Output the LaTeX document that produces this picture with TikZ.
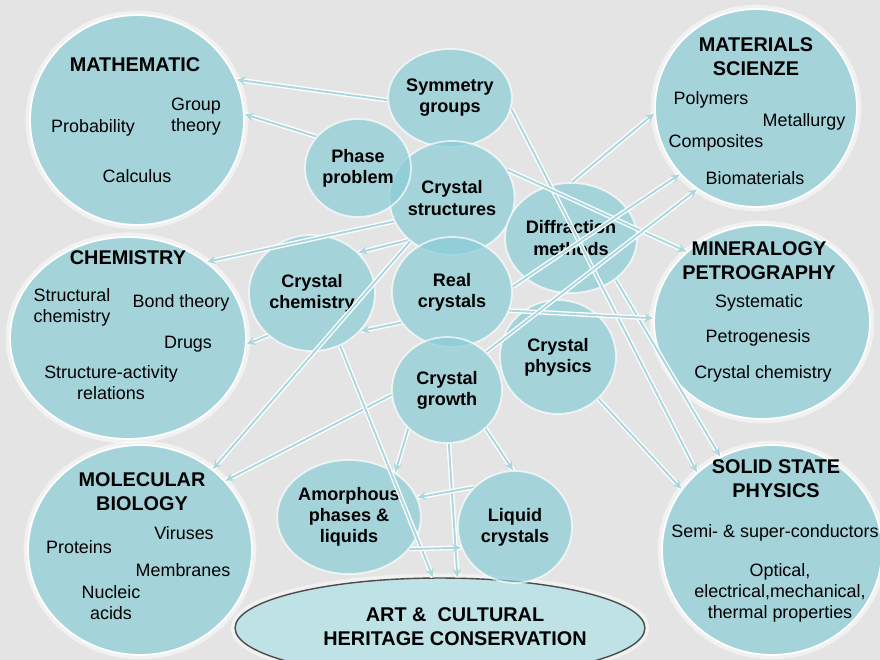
\documentclass[tikz,border=0pt]{standalone}
\usepackage{fontspec}
\setmainfont{Liberation Sans}
\usetikzlibrary{shapes.geometric,arrows.meta}
\definecolor{bgcol}{RGB}{228,228,228}
\definecolor{blob}{RGB}{164,212,218}
\definecolor{midblob}{RGB}{137,205,214}
\definecolor{linkcol}{RGB}{170,216,222}
\definecolor{artcol}{RGB}{190,226,230}
\tikzset{
  rad/.style 2 args={minimum width=#1*0.04cm, minimum height=#2*0.04cm},
  field/.style={ellipse, inner sep=0pt, fill=blob, draw=white, line width=1pt,
    preaction={draw=white, line width=5pt, draw opacity=0.5}},
  topic/.style={ellipse, inner sep=0pt, fill=midblob, fill opacity=0.7, text opacity=1,
    draw=white, draw opacity=0.7, line width=1pt, align=center,
    font=\fontsize{10.3}{12}\selectfont\bfseries},
  head/.style={font=\fontsize{11.3}{13.6}\selectfont\bfseries, align=center},
  item/.style={font=\fontsize{10.2}{12}\selectfont, align=center},
  link/.style={-{Stealth[length=5pt,width=4.5pt]}, draw=linkcol, line width=1.1pt,
    preaction={draw=white, line width=2.6pt, -}}
}

\begin{document}
\begin{tikzpicture}[x=0.02cm,y=-0.02cm]
  \useasboundingbox (0,0) rectangle (880,660);
  \fill[bgcol] (0,0) rectangle (880,660);

  % big fields round the edge
  \node[field, rad={107}{105}] (math) at (137,120) {};
  \node[field, rad={101}{99}] (matsci) at (756,108) {};
  \node[field, rad={118}{101}] (chem) at (128,338) {};
  \node[field, rad={108}{97}] (miner) at (762,322) {};
  \node[field, rad={112}{105}] (molbio) at (140,550) {};
  \node[field, rad={110}{105}] (solid) at (772,550) {};
  \node[ellipse, inner sep=0pt, rad={205}{50}, fill=artcol, draw=gray!60!black, line width=0.8pt,
    preaction={draw=white, line width=5pt, draw opacity=0.5}] (art) at (440,628) {};

  % crystallography in the middle
  \node[topic, rad={56}{49}] (sym) at (450,98) {Symmetry\\groups};
  \node[topic, rad={60}{57}] (struct) at (452,198) {Crystal\\structures};
  \node[topic, rad={53}{49}] (phase) at (358,168) {Phase\\problem};
  \node[topic, rad={66}{55}] (diffr) at (571,238) {Diffraction\\methods};
  \node[topic, rad={60}{55}] (real) at (452,292) {Real\\crystals};
  \node[topic, rad={63}{58}] (cchem) at (312,293) {Crystal\\chemistry};
  \node[topic, rad={58}{57}] (cphys) at (558,357) {Crystal\\physics};
  \node[topic, rad={55}{53}] (growth) at (447,390) {Crystal\\growth};
  \node[topic, rad={59}{57}] (amorph) at (349,517) {Amorphous\\phases \&\\liquids};
  \node[topic, rad={57}{56}] (liquid) at (515,527) {Liquid\\crystals};

  % texts of the fields
  \node[head] (mathT) at (135,65) {MATHEMATIC};
  \node[item] (mathA) at (93,128) {Probability};
  \node[item] (mathB) at (196,117) {Group\\theory};
  \node[item] (mathC) at (137,176) {Calculus};

  \node[head] (matsciT) at (756,57) {MATERIALS\\SCIENZE};
  \node[item] (matsciA) at (711,100) {Polymers};
  \node[item] (matsciB) at (804,122) {Metallurgy};
  \node[item] (matsciC) at (716,143) {Composites};
  \node[item] (matsciD) at (755,178) {Biomaterials};

  \node[head] (chemT) at (128,258) {CHEMISTRY};
  \node[item] (chemA) at (72,307) {Structural\\chemistry};
  \node[item] (chemB) at (181,303) {Bond theory};
  \node[item] (chemC) at (188,344) {Drugs};
  \node[item] (chemD) at (111,383) {Structure-activity\\relations};

  \node[head] (minerT) at (759,261) {MINERALOGY\\PETROGRAPHY};
  \node[item] (minerA) at (759,303) {Systematic};
  \node[item] (minerB) at (758,338) {Petrogenesis};
  \node[item] (minerC) at (763,374) {Crystal chemistry};

  \node[head] (molbioT) at (142,492) {MOLECULAR\\BIOLOGY};
  \node[item] (molbioA) at (184,533) {Viruses};
  \node[item] (molbioB) at (79,547) {Proteins};
  \node[item] (molbioC) at (183,570) {Membranes};
  \node[item] (molbioD) at (111,603) {Nucleic\\acids};

  \node[head] (solidT) at (776,479) {SOLID STATE\\PHYSICS};
  \node[item] (solidA) at (775,533) {Semi- \& super-conductors};
  \node[item] (solidB) at (780,593) {Optical,\\electrical,mechanical,\\thermal properties};

  \node[head] (artT) at (455,627) {ART \&\ \ CULTURAL\\HERITAGE CONSERVATION};

  % links
  \draw[link] (sym.182) -- (math.22);
  \draw[link] (phase.143) -- (math.3);
  \draw[link] (sym.-10) -- (solid.134);
  \draw[link] (diffr.-43) -- (solid.119);
  \draw[link] (cphys.-46) -- (solid.146);
  \draw[link] (struct.27) -- (miner.137);
  \draw[link] (real.-18) -- (miner.178);
  \draw[link] (diffr.89) -- (matsci.183);
  \draw[link] (real.5) -- (matsci.221);
  \draw[link] (growth.44) -- (matsci.234);
  \draw[link] (struct.202) -- (chem.44);
  \draw[link] (struct.224) -- (cchem.41);
  \draw[link] (real.211) -- (cchem.-38);
  \draw[link] (cchem.224) -- (chem.-3);
  \draw[link] (struct.226) -- (molbio.48);
  \draw[link] (growth.185) -- (molbio.39);
  \draw[link] (cchem.-62) -- (art.98);
  \draw[link] (growth.-88) -- (art.71);
  \draw[link] (growth.225) -- (amorph.44);
  \draw[link] (growth.-45) -- (liquid.92);
  \draw[link] (liquid.136) -- (amorph.16);
  \draw[link] (amorph.-28) -- (liquid.201);
\end{tikzpicture}
\end{document}
